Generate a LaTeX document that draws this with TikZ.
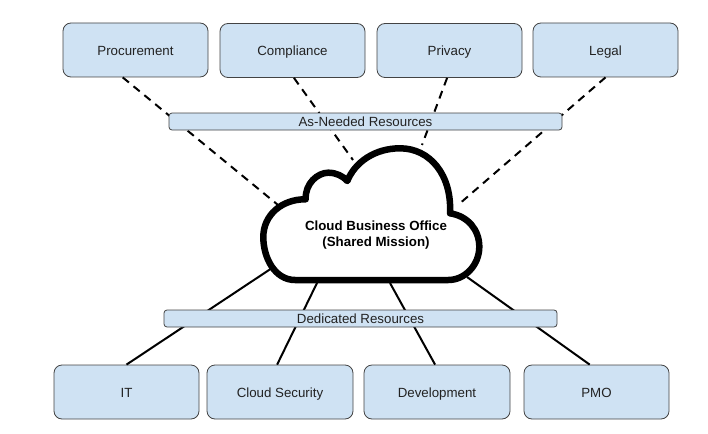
\documentclass[tikz,border=0pt]{standalone}
\usepackage{fontspec}
\setmainfont{Liberation Sans}
\definecolor{boxblue}{HTML}{CFE2F3}
\definecolor{boxline}{HTML}{434343}
\definecolor{boxtext}{HTML}{222222}
\tikzset{
  teambox/.style={draw=boxline,line width=0.8pt,fill=boxblue,rounded corners=8pt,minimum width=145pt,minimum height=54pt,text height=13pt,text depth=2pt,text=boxtext,font=\fontsize{13.3}{16}\selectfont},
  groupbar/.style={draw=boxline,line width=0.8pt,fill=boxblue,rounded corners=3pt,minimum width=393pt,minimum height=17pt,inner sep=0pt,text=boxtext,font=\fontsize{13.3}{16}\selectfont},
  asneeded/.style={line width=2pt,dash pattern=on 8pt off 6pt},
  dedicated/.style={line width=2pt}
}
\begin{document}
\begin{tikzpicture}[x=1pt,y=-1pt]
\useasboundingbox (0,0) rectangle (708,433);
\path(135.5,50) node[teambox](Procurement){Procurement} (292.5,50.5) node[teambox](Compliance){Compliance} (449.5,50.5) node[teambox](Privacy){Privacy} (605.5,50) node[teambox](Legal){Legal};
\path(126.5,392) node[teambox](IT){IT} (280,392) node[teambox,minimum width=146pt](CloudSecurity){Cloud Security} (437,392) node[teambox,minimum width=146pt](Development){Development} (596.5,392) node[teambox](PMO){PMO};

% where the connectors meet the cloud
\coordinate (cloudA) at (278,205);
\coordinate (cloudB) at (353,160);
\coordinate (cloudC) at (422,145);
\coordinate (cloudD) at (458,205);
\coordinate (cloudE) at (272,268);
\coordinate (cloudF) at (317,283);
\coordinate (cloudG) at (390,283);
\coordinate (cloudH) at (467,277);

\draw[asneeded] (Procurement.245) -- (cloudA);
\draw[asneeded] (Compliance.-87) -- (cloudB);
\draw[asneeded] (Privacy.-95) -- (cloudC);
\draw[asneeded] (Legal.south) -- (cloudD);
\draw[dedicated] (IT.north) -- (cloudE);
\draw[dedicated] (CloudSecurity.96) -- (cloudF);
\draw[dedicated] (Development.94) -- (cloudG);
\draw[dedicated] (PMO.104) -- (cloudH);

\path(365.5,121.5) node[groupbar](AsNeeded){As-Needed Resources} (360.5,318.5) node[groupbar](Dedicated){Dedicated Resources};

% cloud outline
\draw[line width=6.5pt,line join=round,fill=white] (295,280) .. controls (275,280) and (263.3,258) .. (263.3,237) .. controls (263.3,215) and (282,199) .. (305.7,199.3) .. controls (305,183) and (318,172.7) .. (328.3,172.7) .. controls (336,172.7) and (343,176) .. (347.3,181) .. controls (355,162) and (375,148.3) .. (400,148.3) .. controls (430,148.3) and (452,175) .. (450,213.3) .. controls (468,216) and (479.3,230) .. (479.3,246.7) .. controls (479.3,265) and (465,280) .. (448.3,280) -- cycle;
\node[align=center,font=\fontsize{13.3}{16}\selectfont\bfseries] (Office) at (376,235) {Cloud Business Office\\(Shared Mission)};
\end{tikzpicture}
\end{document}
